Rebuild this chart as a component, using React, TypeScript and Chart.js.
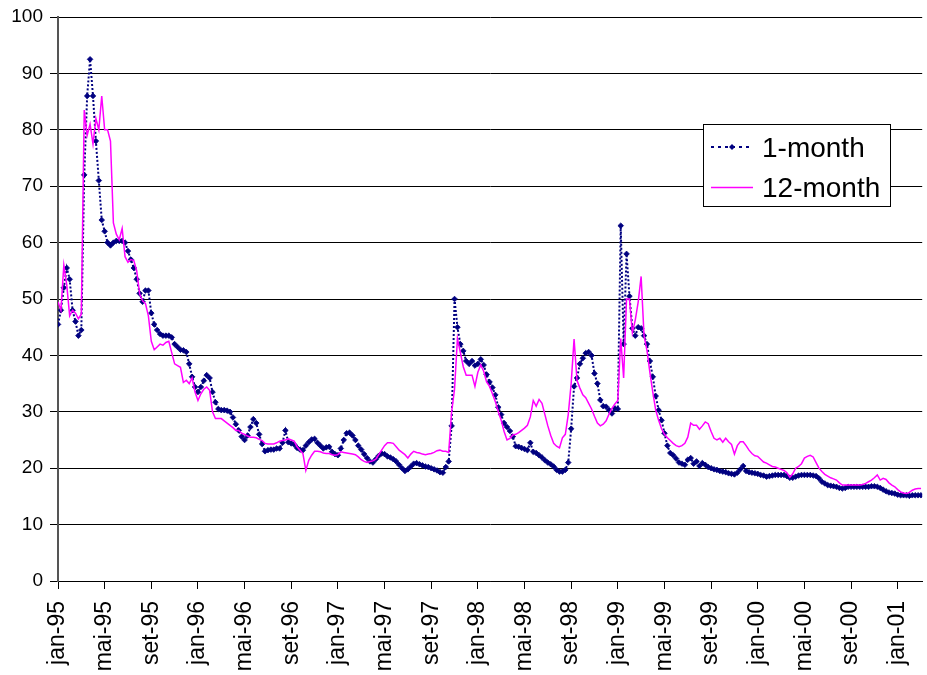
import React, { useEffect, useRef } from "react";
import { Chart, registerables } from "chart.js";

Chart.register(...registerables);

// x unit: months since jan-95; one value every quarter month
const STEP_MONTHS = 0.25;
const X_MAX = 74.1;
const tickMonths = [0, 4, 8, 12, 16, 20, 24, 28, 32, 36, 40, 44, 48, 52, 56, 60, 64, 68, 72];
const tickLabels = [
  "jan-95", "mai-95", "set-95", "jan-96", "mai-96", "set-96", "jan-97", "mai-97", "set-97",
  "jan-98", "mai-98", "set-98", "jan-99", "mai-99", "set-99", "jan-00", "mai-00", "set-00", "jan-01",
];
const seriesNames = ["1-month", "12-month"];

const oneMonth1995 = [45.5, 48, 52, 55.5, 53.5, 48, 46, 43.5, 44.5, 72, 86, 92.5, 86, 78, 71, 64, 62, 60, 59.5, 60, 60.3, 60.3, 60.3, 60, 58.5, 57, 55.5, 53.5, 51, 49.5, 51.5, 51.5, 47.5, 45.5, 44.5, 43.8, 43.5, 43.5, 43.5, 43.2, 42, 41.5, 41, 40.9, 40.6, 38.5, 36.2, 34.4];
const oneMonth1996 = [33.5, 34.4, 35.5, 36.5, 36, 33.5, 31.7, 30.5, 30.3, 30.3, 30.2, 30, 29, 27.8, 26.7, 25.6, 25, 25.8, 27.3, 28.7, 28, 26, 24.3, 23, 23.2, 23.3, 23.3, 23.5, 23.5, 24.5, 26.7, 24.6, 24.4, 24.2, 23.6, 23.3, 23.2, 24, 24.6, 25.1, 25.2, 24.5, 24, 23.5, 23.7, 23.8, 22.9, 22.5];
const oneMonth1997 = [22.3, 23.5, 25, 26.2, 26.3, 25.8, 25, 24, 23.3, 22.5, 21.8, 21.2, 21, 21.6, 22.2, 22.6, 22.5, 22.1, 21.9, 21.6, 21.2, 20.6, 20, 19.5, 19.8, 20.3, 20.8, 20.9, 20.7, 20.5, 20.3, 20.2, 20, 19.8, 19.6, 19.3, 19.2, 20.2, 21.2, 27.5, 50, 45, 42, 40.8, 39, 38.5, 39, 38.2];
const oneMonth1998 = [38.5, 39.3, 38.3, 36.6, 35.3, 34.3, 33, 30.8, 29.5, 28, 27.3, 26.6, 25.6, 23.9, 23.8, 23.6, 23.4, 23.2, 24.5, 22.9, 22.7, 22.3, 21.9, 21.4, 21, 20.7, 20.3, 19.7, 19.4, 19.4, 19.7, 21, 27, 34.5, 36, 38.5, 39.5, 40.4, 40.6, 40, 36.8, 35, 32.1, 31, 30.9, 30.3, 29.7, 30.6];
const oneMonth1999 = [30.5, 63, 42, 58, 50.5, 44.8, 43.5, 45, 44.8, 43.5, 42, 39, 36.2, 32.8, 30.3, 28.5, 26.2, 24, 22.7, 22.3, 21.7, 21, 20.8, 20.6, 21.5, 21.8, 20.8, 21.2, 20.4, 20.9, 20.6, 20.2, 20, 19.8, 19.7, 19.5, 19.4, 19.3, 19.1, 19, 18.9, 19.2, 19.8, 20.4, 19.5, 19.3, 19.2, 19.1];
const oneMonth2000 = [19, 18.8, 18.7, 18.5, 18.6, 18.7, 18.8, 18.8, 18.8, 18.8, 18.6, 18.3, 18.3, 18.5, 18.7, 18.8, 18.8, 18.8, 18.8, 18.7, 18.6, 18.2, 17.6, 17.3, 17, 16.9, 16.8, 16.7, 16.5, 16.4, 16.5, 16.7, 16.7, 16.7, 16.7, 16.7, 16.7, 16.7, 16.7, 16.8, 16.8, 16.7, 16.5, 16.2, 15.9, 15.7, 15.6, 15.5];
const oneMonth2001 = [15.3, 15.2, 15.2, 15.2, 15.1, 15.2, 15.2, 15.2, 15.2];

const twelveMonth1995 = [49.5, 48, 56, 52.5, 47, 48, 47.5, 46.5, 47.3, 83.5, 79, 81, 77.5, 82, 80, 86, 80, 80, 78, 63.5, 61.5, 60.5, 62.5, 57.5, 56.5, 57, 56.8, 55, 50.9, 49.7, 49.2, 47, 42.5, 41, 41.5, 42, 41.8, 42.3, 42.5, 40.5, 38.5, 38.2, 37.9, 35.2, 35.6, 35, 36, 33.5];
const twelveMonth1996 = [32, 33.2, 34, 34.4, 33.8, 30, 28.8, 28.8, 28.8, 28.4, 28, 27.6, 27.2, 26.7, 26.7, 26.2, 26, 25.7, 25.5, 25.5, 25.4, 25.1, 24.9, 24.4, 24.3, 24.3, 24.3, 24.5, 24.8, 24.9, 25, 25.2, 25, 24.8, 23.8, 23.2, 22.6, 19.6, 21.4, 22.3, 23, 23, 22.9, 22.7, 22.6, 22.6, 22.4, 22.3];
const twelveMonth1997 = [22.4, 22.9, 22.8, 22.7, 22.6, 22.5, 22.4, 22, 21.5, 21.2, 21, 21.2, 21.3, 21.6, 22.4, 23.2, 24, 24.5, 24.5, 24.4, 23.8, 23.2, 22.8, 22.4, 21.8, 22.5, 23, 22.8, 22.7, 22.5, 22.4, 22.5, 22.6, 22.8, 23.1, 23.2, 23, 23, 22.8, 30, 34, 43, 40.5, 38, 36.5, 36.5, 36.5, 34.5];
const twelveMonth1998 = [37, 38.3, 37.2, 35.3, 34.5, 33.2, 31.8, 30, 28.5, 26.5, 25, 25.3, 25.9, 26, 26.3, 26.7, 27.1, 27.6, 29.1, 32, 31, 32.2, 31.5, 29.5, 27.5, 25.8, 24.4, 23.9, 23.6, 25.4, 26, 29.5, 35, 42.9, 35.6, 34.2, 33, 32.5, 31.5, 30.5, 29.2, 28, 27.5, 27.8, 28.4, 29.6, 30.6, 31.4];
const twelveMonth1999 = [32, 43, 36, 50, 50, 44, 46.3, 49.5, 54, 43.5, 40.9, 37, 33.5, 30.3, 28.5, 27, 26, 25.4, 24.9, 24.4, 24, 23.8, 24, 24.4, 25.5, 28, 27.6, 27.6, 26.9, 27.5, 28.2, 27.9, 26.5, 25.3, 25, 25.3, 24.6, 25.3, 24.7, 24.2, 22.5, 24, 24.7, 24.7, 24, 23.2, 22.6, 22.2];
const twelveMonth2000 = [22.1, 21.6, 21.1, 20.9, 20.6, 20.3, 20.2, 20, 19.8, 19.6, 19.2, 18.4, 19, 20, 20.3, 20.8, 21.8, 22.1, 22.3, 22, 21, 20, 19.4, 18.9, 18.6, 18.3, 18.1, 17.9, 17.4, 17, 17, 17, 17, 17, 17, 17, 17.1, 17.3, 17.6, 17.9, 18.3, 18.8, 17.9, 18.2, 18, 17.4, 17, 16.7];
const twelveMonth2001 = [16.2, 15.8, 15.6, 15.5, 15.7, 16.1, 16.3, 16.4, 16.4];

const NAVY = "#000080";
const MAGENTA = "#FF00FF";
const FONT = '"Liberation Sans", Arial, sans-serif';

function toPoints(values: number[]) {
  return values.map((v, i) => ({ x: i * STEP_MONTHS, y: v }));
}

const insideLegend = {
  id: "insideLegend",
  afterDatasetsDraw(chart: any) {
    const ctx = chart.ctx as CanvasRenderingContext2D;
    ctx.save();
    ctx.fillStyle = "#ffffff";
    ctx.fillRect(703.5, 124.5, 187, 82);
    ctx.strokeStyle = "#000000";
    ctx.lineWidth = 1;
    ctx.strokeRect(703.5, 124.5, 187, 82);

    // 1-month sample
    ctx.strokeStyle = NAVY;
    ctx.lineWidth = 2;
    ctx.setLineDash([3, 4]);
    ctx.beginPath();
    ctx.moveTo(711, 147);
    ctx.lineTo(753, 147);
    ctx.stroke();
    ctx.setLineDash([]);
    ctx.fillStyle = NAVY;
    ctx.beginPath();
    ctx.moveTo(732, 144);
    ctx.lineTo(735, 147);
    ctx.lineTo(732, 150);
    ctx.lineTo(729, 147);
    ctx.closePath();
    ctx.fill();

    // 12-month sample
    ctx.strokeStyle = MAGENTA;
    ctx.lineWidth = 1.5;
    ctx.beginPath();
    ctx.moveTo(711, 187.5);
    ctx.lineTo(753, 187.5);
    ctx.stroke();

    ctx.fillStyle = "#000000";
    ctx.font = `28px ${FONT}`;
    ctx.textAlign = "left";
    ctx.textBaseline = "alphabetic";
    ctx.fillText(seriesNames[0], 762, 157);
    ctx.fillText(seriesNames[1], 762, 197);
    ctx.restore();
  },
};

export default function App() {
  const canvasRef = useRef<HTMLCanvasElement>(null);

  useEffect(() => {
    const canvas = canvasRef.current;
    if (!canvas) return;
    const oneMonth = [
      ...oneMonth1995, ...oneMonth1996, ...oneMonth1997, ...oneMonth1998,
      ...oneMonth1999, ...oneMonth2000, ...oneMonth2001,
    ];
    const twelveMonth = [
      ...twelveMonth1995, ...twelveMonth1996, ...twelveMonth1997, ...twelveMonth1998,
      ...twelveMonth1999, ...twelveMonth2000, ...twelveMonth2001,
    ];

    const chart = new Chart(canvas, {
      type: "line",
      data: {
        datasets: [
          {
            label: seriesNames[0],
            data: toPoints(oneMonth),
            borderColor: NAVY,
            backgroundColor: NAVY,
            borderWidth: 2,
            borderDash: [2, 2],
            pointStyle: "rectRot",
            pointRadius: 2.8,
            pointBorderWidth: 0.8,
            pointBackgroundColor: NAVY,
            pointBorderColor: NAVY,
            tension: 0,
            fill: false,
            order: 2,
          },
          {
            label: seriesNames[1],
            data: toPoints(twelveMonth),
            borderColor: MAGENTA,
            backgroundColor: MAGENTA,
            borderWidth: 1.5,
            pointRadius: 0,
            tension: 0,
            fill: false,
            order: 1,
          },
        ],
      },
      options: {
        responsive: true,
        maintainAspectRatio: false,
        animation: false,
        devicePixelRatio: 1,
        layout: { padding: { top: 17, right: 0, bottom: 0, left: 0 } },
        plugins: { legend: { display: false }, tooltip: { enabled: false } },
        scales: {
          x: {
            type: "linear",
            min: 0,
            max: X_MAX,
            afterBuildTicks: (scale: any) => {
              scale.ticks = tickMonths.map((v) => ({ value: v }));
            },
            afterFit: (scale: any) => {
              scale.height = 94;
              scale.paddingLeft = 0;
              scale.paddingRight = 0;
            },
            grid: { drawOnChartArea: false, drawTicks: true, tickLength: 8, color: "#000", lineWidth: 1 },
            border: { color: "#000", width: 1 },
            ticks: {
              autoSkip: false,
              minRotation: 90,
              maxRotation: 90,
              padding: 12,
              color: "#000",
              font: { family: FONT, size: 23 },
              callback: (value: any) => {
                const idx = tickMonths.indexOf(Number(value));
                return idx >= 0 ? tickLabels[idx] : "";
              },
            },
          },
          y: {
            min: 0,
            max: 100,
            afterFit: (scale: any) => {
              scale.width = 58;
              scale.paddingTop = 0;
              scale.paddingBottom = 0;
            },
            grid: { color: "#000", lineWidth: 1, tickLength: 8, drawTicks: true },
            border: { color: "#555", width: 2 },
            ticks: {
              stepSize: 10,
              padding: 7,
              color: "#000",
              font: { family: FONT, size: 19 },
            },
          },
        },
      },
      plugins: [insideLegend],
    });
    return () => chart.destroy();
  }, []);

  return (
    <div style={{ position: "absolute", left: 0, top: 0, width: 927, height: 675, background: "#fff" }}>
      <canvas ref={canvasRef} />
    </div>
  );
}
